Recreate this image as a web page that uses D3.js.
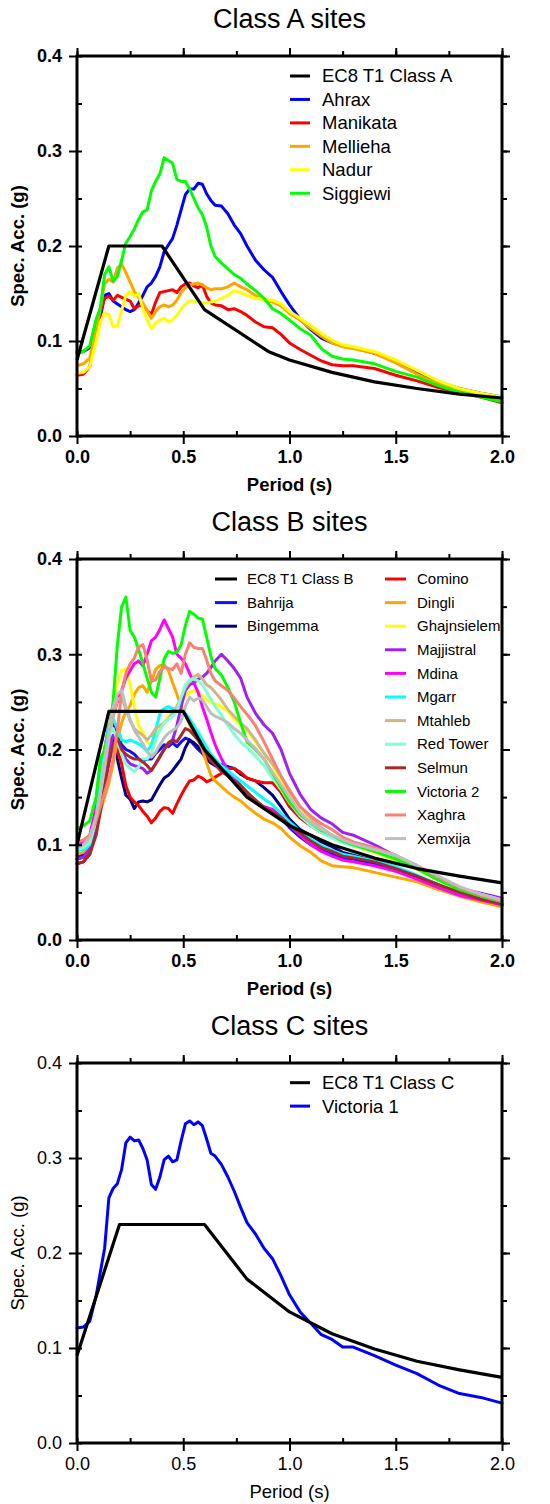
<!DOCTYPE html>
<html>
<head>
<meta charset="utf-8">
<script src="https://cdn.jsdelivr.net/npm/d3@7"></script>
<style>
  body { margin: 0; background: #fff; }
  svg { display: block; font-family: "Liberation Sans", Arial, Helvetica, sans-serif; }
</style>
</head>
<body>
<svg id="fig" width="550" height="1504"></svg>
<script>
// Periods (s) at which the recorded response spectra are tabulated
const periods = [
  0, 0.03, 0.06, 0.09, 0.11, 0.13, 0.15, 0.17, 0.19, 0.21,
  0.23, 0.25, 0.27, 0.29, 0.31, 0.33, 0.35, 0.37, 0.39, 0.41,
  0.43, 0.45, 0.47, 0.49, 0.51, 0.53, 0.55, 0.57, 0.59, 0.61,
  0.63, 0.65, 0.68, 0.71, 0.74, 0.77, 0.8, 0.84, 0.88, 0.92,
  0.96, 1.0, 1.05, 1.1, 1.15, 1.2, 1.25, 1.3, 1.4, 1.5,
  1.6, 1.7, 1.8, 1.9, 2.0
];

// Axis ticks
const xTicks = [0, 0.5, 1.0, 1.5, 2.0];
const xMinorTicks = [0, 0.25, 0.5, 0.75, 1.0, 1.25, 1.5, 1.75, 2.0];
const yTicks = [0, 0.1, 0.2, 0.3, 0.4];
const yMinorTicks = [0, 0.05, 0.1, 0.15, 0.2, 0.25, 0.3, 0.35, 0.4];

// EC8 Type 1 design spectra (corner periods and ordinates, g)
const ec8APeriods = [0, 0.15, 0.4, 0.6, 0.9, 1.0, 1.2, 1.4, 1.6, 1.8, 2.0];
const ec8AValues  = [0.08, 0.2, 0.2, 0.133, 0.089, 0.08, 0.067, 0.057, 0.05, 0.044, 0.04];
const ec8BPeriods = [0, 0.15, 0.5, 0.6, 0.8, 1.0, 1.2, 1.4, 1.6, 1.8, 2.0];
const ec8BValues  = [0.1, 0.24, 0.24, 0.2, 0.15, 0.12, 0.1, 0.086, 0.075, 0.067, 0.06];
const ec8CPeriods = [0, 0.2, 0.6, 0.8, 1.0, 1.2, 1.4, 1.6, 1.8, 2.0];
const ec8CValues  = [0.092, 0.23, 0.23, 0.1725, 0.138, 0.115, 0.099, 0.086, 0.077, 0.069];

// Class A sites
const ahrax = [
  0.088, 0.089, 0.093, 0.105, 0.125, 0.148, 0.150, 0.142, 0.139, 0.136,
  0.133, 0.131, 0.133, 0.140, 0.148, 0.157, 0.161, 0.168, 0.178, 0.194,
  0.201, 0.208, 0.222, 0.238, 0.254, 0.260, 0.260, 0.266, 0.265, 0.255,
  0.248, 0.243, 0.242, 0.234, 0.222, 0.213, 0.200, 0.185, 0.175, 0.167,
  0.152, 0.138, 0.123, 0.112, 0.103, 0.098, 0.095, 0.093, 0.087, 0.079,
  0.068, 0.057, 0.050, 0.045, 0.041
];
const manikata = [
  0.064, 0.065, 0.073, 0.110, 0.130, 0.145, 0.147, 0.143, 0.148, 0.146,
  0.144, 0.142, 0.134, 0.137, 0.137, 0.132, 0.128, 0.141, 0.151, 0.152,
  0.153, 0.154, 0.151, 0.157, 0.160, 0.161, 0.158, 0.156, 0.159, 0.147,
  0.140, 0.138, 0.137, 0.133, 0.134, 0.131, 0.127, 0.120, 0.115, 0.114,
  0.107, 0.098, 0.091, 0.085, 0.079, 0.075, 0.074, 0.074, 0.071, 0.064,
  0.058, 0.051, 0.046, 0.041, 0.035
];
const mellieha = [
  0.074, 0.076, 0.082, 0.112, 0.135, 0.160, 0.165, 0.162, 0.177, 0.181,
  0.172, 0.162, 0.152, 0.146, 0.140, 0.132, 0.124, 0.131, 0.136, 0.138,
  0.136, 0.138, 0.143, 0.151, 0.156, 0.159, 0.160, 0.161, 0.159, 0.156,
  0.154, 0.155, 0.155, 0.157, 0.161, 0.157, 0.154, 0.148, 0.143, 0.141,
  0.137, 0.129, 0.122, 0.113, 0.105, 0.098, 0.094, 0.092, 0.087, 0.077,
  0.065, 0.055, 0.048, 0.043, 0.039
];
const nadur = [
  0.066, 0.067, 0.073, 0.100, 0.120, 0.130, 0.128, 0.115, 0.116, 0.132,
  0.148, 0.152, 0.147, 0.150, 0.134, 0.122, 0.113, 0.119, 0.122, 0.124,
  0.120, 0.122, 0.127, 0.134, 0.139, 0.142, 0.142, 0.141, 0.140, 0.140,
  0.141, 0.142, 0.145, 0.148, 0.153, 0.151, 0.148, 0.145, 0.144, 0.143,
  0.139, 0.131, 0.124, 0.116, 0.108, 0.101, 0.096, 0.094, 0.089, 0.080,
  0.069, 0.058, 0.050, 0.045, 0.041
];
const siggiewi = [
  0.087, 0.089, 0.095, 0.123, 0.135, 0.170, 0.178, 0.163, 0.168, 0.185,
  0.203, 0.210, 0.218, 0.228, 0.236, 0.238, 0.258, 0.268, 0.276, 0.293,
  0.290, 0.287, 0.270, 0.268, 0.268, 0.260, 0.250, 0.240, 0.233, 0.220,
  0.200, 0.189, 0.182, 0.176, 0.170, 0.166, 0.160, 0.153, 0.145, 0.134,
  0.129, 0.122, 0.113, 0.106, 0.092, 0.084, 0.081, 0.080, 0.076, 0.068,
  0.062, 0.053, 0.046, 0.041, 0.036
];

// Class B sites
const bahrija = [
  0.088, 0.090, 0.100, 0.130, 0.160, 0.200, 0.225, 0.228, 0.215, 0.205,
  0.200, 0.198, 0.195, 0.190, 0.188, 0.190, 0.190, 0.196, 0.200, 0.205,
  0.203, 0.207, 0.203, 0.208, 0.212, 0.210, 0.205, 0.200, 0.196, 0.190,
  0.186, 0.183, 0.180, 0.176, 0.170, 0.162, 0.155, 0.145, 0.138, 0.135,
  0.128, 0.118, 0.108, 0.100, 0.094, 0.090, 0.086, 0.085, 0.080, 0.073,
  0.065, 0.056, 0.048, 0.042, 0.037
];
const bingemma = [
  0.085, 0.087, 0.095, 0.120, 0.150, 0.190, 0.212, 0.210, 0.190, 0.170,
  0.152, 0.148, 0.138, 0.145, 0.146, 0.145, 0.147, 0.155, 0.163, 0.170,
  0.173, 0.178, 0.184, 0.190, 0.202, 0.210, 0.207, 0.203, 0.198, 0.190,
  0.186, 0.184, 0.184, 0.182, 0.180, 0.174, 0.170, 0.167, 0.160, 0.152,
  0.140, 0.127, 0.116, 0.110, 0.103, 0.098, 0.092, 0.089, 0.083, 0.076,
  0.067, 0.058, 0.049, 0.043, 0.037
];
const comino = [
  0.080, 0.082, 0.090, 0.120, 0.150, 0.180, 0.200, 0.205, 0.200, 0.185,
  0.162, 0.150, 0.145, 0.141, 0.135, 0.130, 0.123, 0.128, 0.135, 0.139,
  0.138, 0.133, 0.143, 0.152, 0.160, 0.167, 0.168, 0.172, 0.170, 0.166,
  0.168, 0.171, 0.175, 0.180, 0.180, 0.176, 0.170, 0.167, 0.165, 0.165,
  0.155, 0.140, 0.128, 0.120, 0.113, 0.108, 0.103, 0.100, 0.094, 0.087,
  0.076, 0.064, 0.053, 0.046, 0.040
];
const dingli = [
  0.090, 0.092, 0.100, 0.118, 0.135, 0.150, 0.165, 0.185, 0.210, 0.228,
  0.240, 0.246, 0.258, 0.265, 0.267, 0.260, 0.272, 0.284, 0.288, 0.289,
  0.283, 0.270, 0.258, 0.245, 0.236, 0.226, 0.218, 0.210, 0.200, 0.186,
  0.173, 0.167, 0.161, 0.155, 0.150, 0.146, 0.140, 0.133, 0.127, 0.123,
  0.117, 0.108, 0.099, 0.092, 0.083, 0.078, 0.077, 0.076, 0.071, 0.066,
  0.061, 0.053, 0.046, 0.040, 0.035
];
const ghajnsielem = [
  0.095, 0.097, 0.105, 0.130, 0.155, 0.190, 0.220, 0.250, 0.270, 0.283,
  0.285, 0.268, 0.245, 0.225, 0.218, 0.208, 0.205, 0.215, 0.222, 0.228,
  0.235, 0.240, 0.245, 0.250, 0.256, 0.260, 0.262, 0.260, 0.256, 0.252,
  0.250, 0.248, 0.245, 0.240, 0.232, 0.226, 0.220, 0.208, 0.196, 0.184,
  0.165, 0.150, 0.135, 0.125, 0.116, 0.109, 0.103, 0.099, 0.092, 0.084,
  0.074, 0.063, 0.052, 0.046, 0.040
];
const majjistral = [
  0.085, 0.087, 0.095, 0.115, 0.140, 0.170, 0.200, 0.215, 0.210, 0.200,
  0.190, 0.185, 0.183, 0.182, 0.180, 0.175, 0.178, 0.185, 0.193, 0.200,
  0.205, 0.210, 0.225, 0.245, 0.262, 0.268, 0.270, 0.274, 0.276, 0.280,
  0.286, 0.293, 0.300, 0.293, 0.285, 0.275, 0.255, 0.238, 0.226, 0.217,
  0.200, 0.175, 0.153, 0.137, 0.128, 0.122, 0.113, 0.110, 0.100, 0.088,
  0.078, 0.064, 0.054, 0.049, 0.044
];
const mdina = [
  0.100, 0.102, 0.110, 0.140, 0.170, 0.200, 0.220, 0.235, 0.250, 0.262,
  0.275, 0.283, 0.290, 0.293, 0.288, 0.300, 0.314, 0.318, 0.326, 0.336,
  0.327, 0.318, 0.300, 0.296, 0.290, 0.280, 0.270, 0.260, 0.245, 0.232,
  0.218, 0.205, 0.190, 0.178, 0.170, 0.162, 0.155, 0.146, 0.140, 0.137,
  0.130, 0.120, 0.110, 0.100, 0.093, 0.088, 0.084, 0.082, 0.078, 0.072,
  0.064, 0.055, 0.047, 0.042, 0.037
];
const mgarr = [
  0.094, 0.095, 0.100, 0.130, 0.165, 0.200, 0.225, 0.232, 0.222, 0.210,
  0.208, 0.210, 0.208, 0.206, 0.203, 0.198, 0.205, 0.220, 0.238, 0.243,
  0.245, 0.243, 0.240, 0.240, 0.238, 0.232, 0.225, 0.218, 0.210, 0.202,
  0.195, 0.190, 0.183, 0.178, 0.172, 0.167, 0.162, 0.155, 0.148, 0.142,
  0.133, 0.124, 0.114, 0.106, 0.099, 0.094, 0.090, 0.088, 0.083, 0.077,
  0.068, 0.058, 0.050, 0.044, 0.039
];
const mtahleb = [
  0.097, 0.099, 0.105, 0.125, 0.150, 0.180, 0.210, 0.235, 0.252, 0.255,
  0.242, 0.230, 0.222, 0.218, 0.215, 0.210, 0.215, 0.222, 0.225, 0.228,
  0.232, 0.238, 0.245, 0.255, 0.265, 0.272, 0.276, 0.279, 0.274, 0.268,
  0.265, 0.260, 0.252, 0.242, 0.235, 0.228, 0.222, 0.210, 0.196, 0.185,
  0.172, 0.158, 0.140, 0.128, 0.118, 0.110, 0.104, 0.100, 0.093, 0.087,
  0.077, 0.065, 0.055, 0.047, 0.041
];
const redTower = [
  0.095, 0.097, 0.102, 0.125, 0.155, 0.190, 0.215, 0.222, 0.210, 0.195,
  0.185, 0.180, 0.177, 0.182, 0.190, 0.190, 0.195, 0.210, 0.220, 0.228,
  0.232, 0.235, 0.240, 0.255, 0.268, 0.273, 0.274, 0.272, 0.268, 0.260,
  0.253, 0.245, 0.236, 0.225, 0.216, 0.208, 0.202, 0.193, 0.183, 0.170,
  0.158, 0.144, 0.130, 0.120, 0.113, 0.107, 0.102, 0.099, 0.094, 0.089,
  0.078, 0.066, 0.055, 0.048, 0.042
];
const selmun = [
  0.080, 0.082, 0.090, 0.110, 0.135, 0.160, 0.185, 0.205, 0.212, 0.200,
  0.195, 0.192, 0.190, 0.190, 0.187, 0.183, 0.178, 0.185, 0.192, 0.200,
  0.207, 0.210, 0.208, 0.215, 0.222, 0.220, 0.215, 0.210, 0.203, 0.195,
  0.188, 0.184, 0.177, 0.172, 0.167, 0.162, 0.155, 0.147, 0.139, 0.134,
  0.129, 0.121, 0.112, 0.104, 0.097, 0.093, 0.088, 0.086, 0.082, 0.075,
  0.067, 0.058, 0.050, 0.043, 0.038
];
const victoria2 = [
  0.117, 0.120, 0.125, 0.150, 0.190, 0.200, 0.220, 0.250, 0.310, 0.350,
  0.360, 0.325, 0.318, 0.305, 0.290, 0.275, 0.260, 0.255, 0.275, 0.295,
  0.303, 0.301, 0.302, 0.310, 0.330, 0.345, 0.342, 0.338, 0.337, 0.318,
  0.298, 0.285, 0.278, 0.265, 0.250, 0.228, 0.208, 0.200, 0.190, 0.175,
  0.160, 0.145, 0.132, 0.123, 0.115, 0.110, 0.104, 0.100, 0.093, 0.085,
  0.075, 0.063, 0.053, 0.046, 0.040
];
const xaghra = [
  0.103, 0.105, 0.110, 0.125, 0.140, 0.155, 0.170, 0.190, 0.220, 0.260,
  0.280, 0.290, 0.296, 0.308, 0.310, 0.294, 0.272, 0.273, 0.282, 0.287,
  0.285, 0.284, 0.290, 0.280, 0.300, 0.312, 0.307, 0.306, 0.306, 0.294,
  0.280, 0.272, 0.267, 0.262, 0.254, 0.245, 0.237, 0.225, 0.208, 0.190,
  0.172, 0.156, 0.140, 0.130, 0.122, 0.116, 0.108, 0.103, 0.097, 0.089,
  0.078, 0.066, 0.055, 0.047, 0.041
];
const xemxija = [
  0.097, 0.100, 0.108, 0.130, 0.155, 0.190, 0.220, 0.245, 0.258, 0.262,
  0.245, 0.232, 0.220, 0.213, 0.206, 0.198, 0.192, 0.197, 0.205, 0.212,
  0.217, 0.220, 0.223, 0.230, 0.245, 0.255, 0.251, 0.254, 0.252, 0.245,
  0.238, 0.235, 0.232, 0.228, 0.222, 0.217, 0.210, 0.201, 0.190, 0.176,
  0.163, 0.150, 0.134, 0.123, 0.116, 0.110, 0.105, 0.101, 0.095, 0.089,
  0.078, 0.067, 0.056, 0.048, 0.042
];

// Class C sites
const victoria1 = [
  0.121, 0.122, 0.128, 0.155, 0.180, 0.205, 0.258, 0.268, 0.273, 0.288,
  0.316, 0.322, 0.318, 0.319, 0.310, 0.298, 0.272, 0.267, 0.280, 0.298,
  0.302, 0.296, 0.298, 0.318, 0.336, 0.339, 0.335, 0.338, 0.334, 0.320,
  0.305, 0.302, 0.293, 0.280, 0.265, 0.248, 0.232, 0.220, 0.205, 0.194,
  0.176, 0.156, 0.138, 0.126, 0.114, 0.109, 0.101, 0.101, 0.092, 0.082,
  0.073, 0.061, 0.052, 0.048, 0.042
];

const svg = d3.select("#fig");
svg.append("rect").attr("width", 550).attr("height", 1504).attr("fill", "#fff");

const plotLeft = 77, plotRight = 502;
const x = d3.scaleLinear().domain([0, 2]).range([plotLeft, plotRight]);

function drawPanel(p) {
  const y = d3.scaleLinear().domain([0, 0.4]).range([p.bottom, p.top]);
  const g = svg.append("g");
  const weight = p.boldAxes ? "bold" : "normal";
  const line = d3.line().x(d => x(d[0])).y(d => y(d[1]));

  // panel title
  g.append("text")
    .attr("x", (plotLeft + plotRight) / 2).attr("y", p.top - 28)
    .attr("text-anchor", "middle").attr("font-size", 27).attr("fill", "#000")
    .text(p.title);

  // recorded spectra
  p.series.forEach(s => {
    g.append("path")
      .datum(periods.map((t, i) => [t, s.values[i]]))
      .attr("d", line)
      .attr("fill", "none").attr("stroke", s.color)
      .attr("stroke-width", 3).attr("stroke-linejoin", "round").attr("stroke-linecap", "round");
  });

  // code spectrum
  g.append("path")
    .datum(p.ec8Periods.map((t, i) => [t, p.ec8Values[i]]))
    .attr("d", line)
    .attr("fill", "none").attr("stroke", "#000")
    .attr("stroke-width", 3.2).attr("stroke-linejoin", "round");

  const styleAxis = sel => {
    sel.select(".domain").remove();
    sel.selectAll(".tick line").attr("stroke", "#000").attr("stroke-width", 2);
    sel.selectAll(".tick text")
      .attr("font-size", 18).attr("font-weight", weight).attr("fill", "#000")
      .attr("font-family", "'Liberation Sans', Arial, Helvetica, sans-serif");
  };
  const fmt = d3.format(".1f");

  // left axis: labelled major ticks outward, all ticks inward
  g.append("g").attr("transform", `translate(${plotLeft},0)`)
    .call(d3.axisLeft(y).tickValues(yTicks).tickFormat(fmt).tickSize(8).tickPadding(7))
    .call(styleAxis);
  g.append("g").attr("transform", `translate(${plotLeft},0)`)
    .call(d3.axisLeft(y).tickValues(yMinorTicks).tickFormat("").tickSize(-5))
    .call(styleAxis);
  // right axis
  g.append("g").attr("transform", `translate(${plotRight},0)`)
    .call(d3.axisRight(y).tickValues(yMinorTicks).tickFormat("").tickSize(5))
    .call(styleAxis);
  g.append("g").attr("transform", `translate(${plotRight},0)`)
    .call(d3.axisRight(y).tickValues(yTicks).tickFormat("").tickSize(8))
    .call(styleAxis);
  // bottom axis
  g.append("g").attr("transform", `translate(0,${p.bottom})`)
    .call(d3.axisBottom(x).tickValues(xTicks).tickFormat(fmt).tickSize(8).tickPadding(6))
    .call(styleAxis);
  g.append("g").attr("transform", `translate(0,${p.bottom})`)
    .call(d3.axisBottom(x).tickValues(xMinorTicks).tickFormat("").tickSize(-5))
    .call(styleAxis);
  // top axis
  g.append("g").attr("transform", `translate(0,${p.top})`)
    .call(d3.axisTop(x).tickValues(xMinorTicks).tickFormat("").tickSize(5))
    .call(styleAxis);
  g.append("g").attr("transform", `translate(0,${p.top})`)
    .call(d3.axisTop(x).tickValues(xTicks).tickFormat("").tickSize(8))
    .call(styleAxis);

  // frame
  g.append("rect")
    .attr("x", plotLeft).attr("y", p.top)
    .attr("width", plotRight - plotLeft).attr("height", p.bottom - p.top)
    .attr("fill", "none").attr("stroke", "#000").attr("stroke-width", 3);

  // axis titles
  g.append("text")
    .attr("x", (plotLeft + plotRight) / 2).attr("y", p.bottom + 55)
    .attr("text-anchor", "middle").attr("font-size", 18.5).attr("font-weight", weight)
    .text("Period (s)");
  g.append("text")
    .attr("transform", `translate(24,${(p.top + p.bottom) / 2}) rotate(-90)`)
    .attr("text-anchor", "middle").attr("font-size", 18.5).attr("font-weight", weight)
    .text("Spec. Acc. (g)");

  // legend
  p.legend.columns.forEach(col => {
    col.items.forEach((item, k) => {
      const cy = col.y0 + k * p.legend.step;
      g.append("line")
        .attr("x1", col.x0).attr("x2", col.x1).attr("y1", cy).attr("y2", cy)
        .attr("stroke", item.color).attr("stroke-width", 3);
      g.append("text")
        .attr("x", col.tx).attr("y", cy).attr("dy", "0.35em")
        .attr("font-size", p.legend.fontSize).attr("fill", "#000")
        .text(item.name);
    });
  });
}

// Class A
const ec8AItem = { name: "EC8 T1 Class A", color: "#000" };
const seriesA = [
  { name: "Ahrax", values: ahrax, color: "#0000ff" },
  { name: "Manikata", values: manikata, color: "#ff0000" },
  { name: "Mellieha", values: mellieha, color: "#ffa500" },
  { name: "Nadur", values: nadur, color: "#ffff00" },
  { name: "Siggiewi", values: siggiewi, color: "#00ff00" }
];
drawPanel({
  title: "Class A sites", top: 56, bottom: 436, boldAxes: true,
  series: seriesA, ec8Periods: ec8APeriods, ec8Values: ec8AValues,
  legend: {
    step: 23.45, fontSize: 18.5,
    columns: [{ x0: 290, x1: 310, tx: 322, y0: 76, items: [ec8AItem, ...seriesA] }]
  }
});

// Class B
const ec8BItem = { name: "EC8 T1 Class B", color: "#000" };
const seriesB = [
  { name: "Bahrija", values: bahrija, color: "#1010ff" },
  { name: "Bingemma", values: bingemma, color: "#000080" },
  { name: "Comino", values: comino, color: "#ff0000" },
  { name: "Dingli", values: dingli, color: "#ffa500" },
  { name: "Ghajnsielem", values: ghajnsielem, color: "#ffff00" },
  { name: "Majjistral", values: majjistral, color: "#a020f0" },
  { name: "Mdina", values: mdina, color: "#ff00ff" },
  { name: "Mgarr", values: mgarr, color: "#00ffff" },
  { name: "Mtahleb", values: mtahleb, color: "#d2b48c" },
  { name: "Red Tower", values: redTower, color: "#7fffd4" },
  { name: "Selmun", values: selmun, color: "#a52a2a" },
  { name: "Victoria 2", values: victoria2, color: "#00ff00" },
  { name: "Xaghra", values: xaghra, color: "#fa8072" },
  { name: "Xemxija", values: xemxija, color: "#bebebe" }
];
drawPanel({
  title: "Class B sites", top: 559, bottom: 940, boldAxes: true,
  series: seriesB, ec8Periods: ec8BPeriods, ec8Values: ec8BValues,
  legend: {
    step: 23.6, fontSize: 15,
    columns: [
      { x0: 215, x1: 237, tx: 247, y0: 579, items: [ec8BItem, seriesB[0], seriesB[1]] },
      { x0: 385, x1: 406, tx: 417, y0: 579, items: seriesB.slice(2) }
    ]
  }
});

// Class C
const ec8CItem = { name: "EC8 T1 Class C", color: "#000" };
const seriesC = [
  { name: "Victoria 1", values: victoria1, color: "#0000ff" }
];
drawPanel({
  title: "Class C sites", top: 1063, bottom: 1443, boldAxes: false,
  series: seriesC, ec8Periods: ec8CPeriods, ec8Values: ec8CValues,
  legend: {
    step: 23.4, fontSize: 18.5,
    columns: [{ x0: 290, x1: 310, tx: 322, y0: 1082.7, items: [ec8CItem, ...seriesC] }]
  }
});
</script>
</body>
</html>
